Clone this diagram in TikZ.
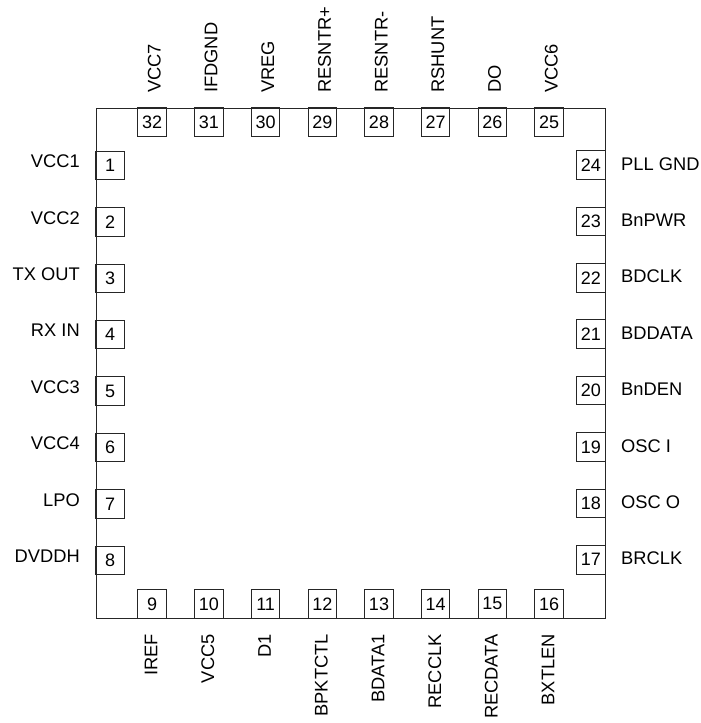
\documentclass[tikz,border=0pt]{standalone}
\usepackage{fontspec}
\setmainfont{Liberation Sans}
\tikzset{x=1pt,y=-1pt,
 chip/.style={draw=black!85,line width=1pt},
 pinbox/.style={draw=black!85,line width=1pt,minimum width=28.5pt,minimum height=28.5pt,inner sep=0pt,font=\fontsize{18}{18}\selectfont,text=black},
 lab/.style={inner sep=0pt,font=\fontsize{18.3}{18.3}\selectfont,text=black}}
\begin{document}
\begin{tikzpicture}
\useasboundingbox (0,0) rectangle (701,723);
\node[chip,minimum width=509pt,minimum height=510pt,inner sep=0pt,anchor=north west] (body) at (96,108) {};
\foreach \n/\t [count=\i from 0] in {1/VCC1,2/VCC2,3/TX OUT,4/RX IN,5/VCC3,6/VCC4,7/LPO,8/DVDDH}{
 \pgfmathsetmacro\yy{165.5+56.4*\i}
 \node[pinbox] (p\n) at (110.2,\yy) {\n};
 \node[lab,anchor=east] (l\n) at (80,\yy-4) {\t};
}
\foreach \n/\t [count=\i from 0] in {24/PLL GND,23/BnPWR,22/BDCLK,21/BDDATA,20/BnDEN,19/OSC I,18/OSC O,17/BRCLK}{
 \pgfmathsetmacro\yy{165.0+56.4*\i}
 \node[pinbox] (p\n) at (590.8,\yy) {\n};
 \node[lab,anchor=west] (l\n) at (621,\yy-1.3) {\t};
}
\foreach \n/\t [count=\i from 0] in {32/VCC7,31/IFDGND,30/VREG,29/RESNTR+,28/RESNTR-,27/RSHUNT,26/DO,25/VCC6}{
 \pgfmathsetmacro\xx{152.2+56.7*\i}
 \node[pinbox] (p\n) at (\xx,122.2) {\n};
 \node[lab,anchor=west,rotate=90] (l\n) at (\xx+2.2,93) {\t};
}
\foreach \n/\t [count=\i from 0] in {9/IREF,10/VCC5,11/D1,12/BPKTCTL,13/BDATA1,14/RECCLK,15/RECDATA,16/BXTLEN}{
 \pgfmathsetmacro\xx{152.2+56.7*\i}
 \node[pinbox] (p\n) at (\xx,603.8) {\n};
 \node[lab,anchor=east,rotate=90] (l\n) at (\xx-1,634) {\t};
}
\end{tikzpicture}
\end{document}
